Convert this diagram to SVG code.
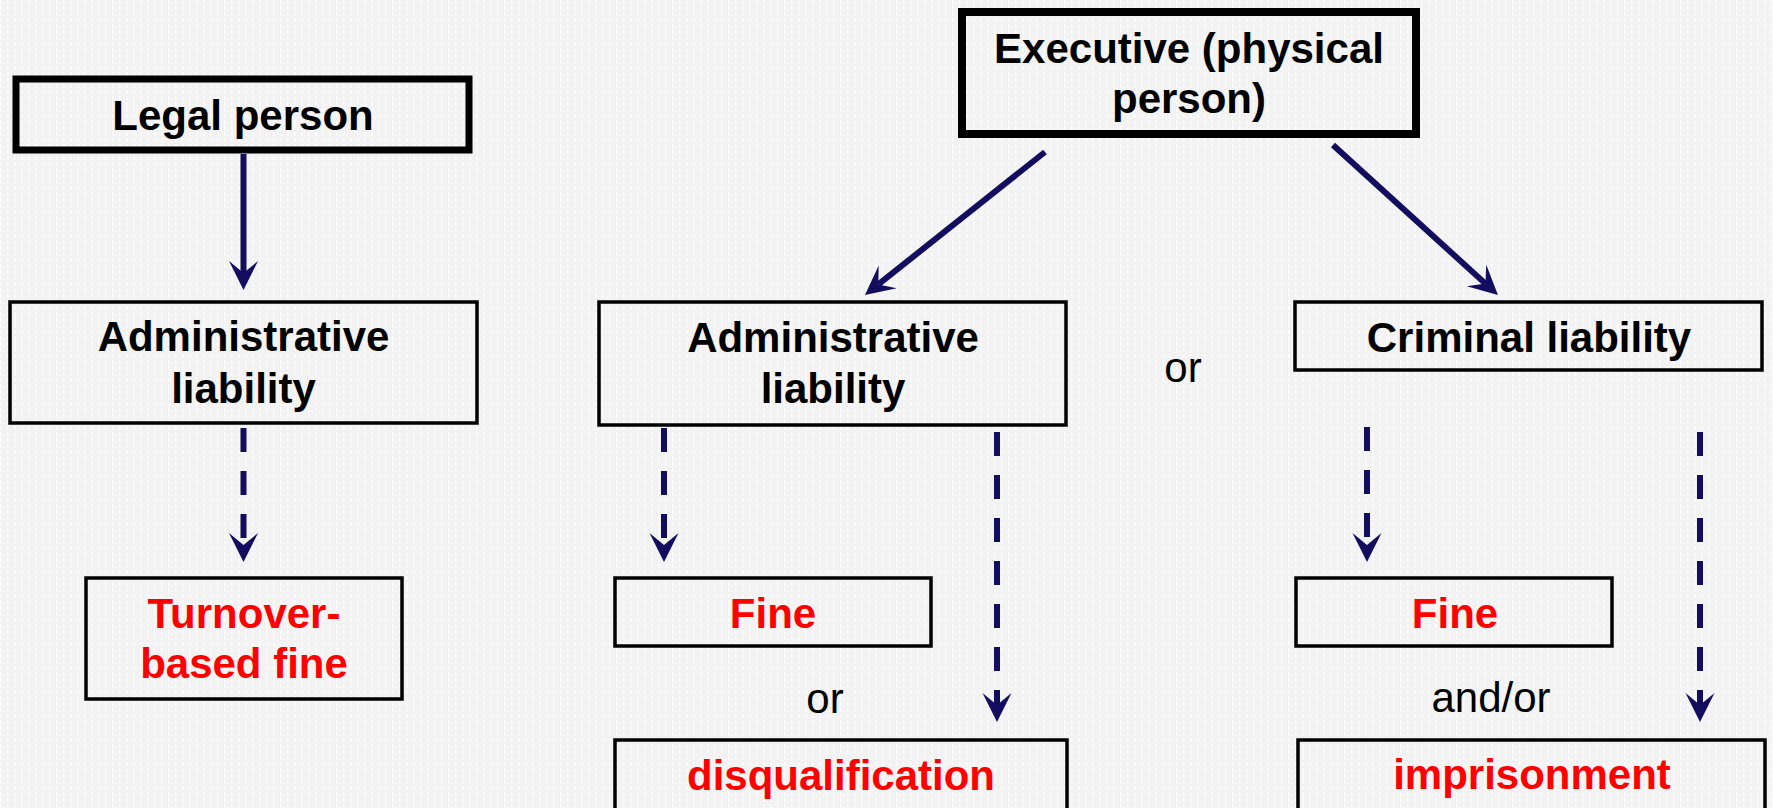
<svg xmlns="http://www.w3.org/2000/svg" width="1773" height="808" viewBox="0 0 1773 808">
  <defs>
    <pattern id="bgp" width="7" height="6" patternUnits="userSpaceOnUse">
      <rect width="7" height="6" fill="#F2F2F2"/>
      <rect x="0" y="0" width="1.6" height="4" fill="#FCFCFC"/>
      <rect x="3.5" y="3" width="1" height="2" fill="#F8F8F8"/>
    </pattern>
    <marker id="arr" markerUnits="userSpaceOnUse" viewBox="-13 -15 31 30" markerWidth="31" markerHeight="30" refX="0" refY="0" orient="auto">
      <path d="M17,0 L-12,-14.5 L0,0 L-12,14.5 Z" fill="#120D5E"/>
    </marker>
    <style>
      .box { fill: none; stroke: #000; stroke-width: 3.5; }
      .thick { stroke-width: 8; }
      .lbl { font-family: "Liberation Sans", Arial, sans-serif; font-size: 42px; font-weight: bold; text-anchor: middle; fill: #000; }
      .red { fill: #FF0000; }
      .plain { font-family: "Liberation Sans", Arial, sans-serif; font-size: 42px; text-anchor: middle; fill: #000; }
      .con { fill: none; stroke: #120D5E; stroke-width: 6; marker-end: url(#arr); }
      .dash { stroke-dasharray: 24 19; }
    </style>
  </defs>

  <rect width="1773" height="808" fill="url(#bgp)"/>

  <g id="legal-person">
    <rect class="box thick" x="16" y="79" width="453" height="71" style="stroke-width:7"/>
    <text class="lbl" x="243" y="130">Legal person</text>
  </g>

  <g id="executive">
    <rect class="box thick" x="962" y="12" width="454" height="122"/>
    <text class="lbl" x="1189" y="63">Executive (physical</text>
    <text class="lbl" x="1189" y="113">person)</text>
  </g>

  <g id="admin-legal">
    <rect class="box" x="10" y="302" width="467" height="121"/>
    <text class="lbl" x="243.5" y="351">Administrative</text>
    <text class="lbl" x="243.5" y="403">liability</text>
  </g>

  <g id="admin-exec">
    <rect class="box" x="599" y="302" width="467" height="123"/>
    <text class="lbl" x="833" y="352">Administrative</text>
    <text class="lbl" x="833" y="403">liability</text>
  </g>

  <g id="criminal">
    <rect class="box" x="1295" y="302" width="467" height="68"/>
    <text class="lbl" x="1529" y="352">Criminal liability</text>
  </g>

  <g id="turnover-fine">
    <rect class="box" x="86" y="578" width="316" height="121"/>
    <text class="lbl red" x="244" y="628">Turnover-</text>
    <text class="lbl red" x="244" y="678">based fine</text>
  </g>

  <g id="fine-admin">
    <rect class="box" x="615" y="578" width="316" height="68"/>
    <text class="lbl red" x="773" y="628">Fine</text>
  </g>

  <g id="disqualification">
    <rect class="box" x="615" y="740" width="452" height="100"/>
    <text class="lbl red" x="841" y="790">disqualification</text>
  </g>

  <g id="fine-criminal">
    <rect class="box" x="1296" y="578" width="316" height="68"/>
    <text class="lbl red" x="1455" y="628">Fine</text>
  </g>

  <g id="imprisonment">
    <rect class="box" x="1298" y="740" width="467" height="100"/>
    <text class="lbl red" x="1532" y="789">imprisonment</text>
  </g>

  <g id="labels">
    <text class="plain" x="1183" y="382">or</text>
    <text class="plain" x="825" y="713">or</text>
    <text class="plain" x="1491" y="712">and/or</text>
  </g>

  <g id="connectors">
    <line class="con" x1="243.5" y1="154" x2="243.5" y2="273"/>
    <line class="con" x1="1045" y1="152" x2="878.3" y2="284.4"/>
    <line class="con" x1="1333" y1="145" x2="1485.4" y2="283.6"/>
    <line class="con dash" x1="243.5" y1="428" x2="243.5" y2="545"/>
    <line class="con dash" x1="664" y1="428" x2="664" y2="545"/>
    <line class="con dash" x1="997" y1="432" x2="997" y2="705"/>
    <line class="con dash" x1="1367" y1="427" x2="1367" y2="545"/>
    <line class="con dash" x1="1700" y1="432" x2="1700" y2="705"/>
  </g>
</svg>
